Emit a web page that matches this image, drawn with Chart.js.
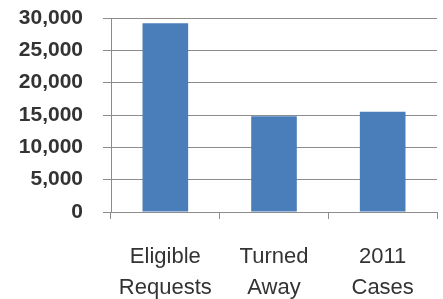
<!DOCTYPE html>
<html>
<head>
<meta charset="utf-8">
<script src="https://cdn.jsdelivr.net/npm/chart.js@4"></script>
<style>
  html, body { margin: 0; padding: 0; background: #fff; }
  #wrap { width: 443px; height: 299px; }
</style>
</head>
<body>
<div id="wrap"><canvas id="c"></canvas></div>
<script>
const categories = [['Eligible', 'Requests'], ['Turned', 'Away'], ['2011', 'Cases']];
const values = [29200, 14800, 15500];
const yTicks = [0, 5000, 10000, 15000, 20000, 25000, 30000];

const data = {
  labels: categories,
  datasets: [{
    data: values,
    backgroundColor: '#4a7ebb',
    borderWidth: 0,
    barPercentage: 0.5,
    categoryPercentage: 0.84
  }]
};

const config = {
  type: 'bar',
  data: data,
  options: {
    responsive: true,
    maintainAspectRatio: false,
    animation: false,
    layout: { padding: { top: 18, right: 6, bottom: 0, left: 0 } },
    plugins: { legend: { display: false }, tooltip: { enabled: false } },
    scales: {
      x: {
        grid: {
          offset: true,
          drawOnChartArea: false,
          drawTicks: true,
          tickLength: 7,
          color: '#8c8c8c'
        },
        border: { display: true, color: '#8c8c8c', width: 1 },
        ticks: {
          color: '#333',
          padding: 23,
          maxRotation: 0,
          font: { family: 'Liberation Sans', size: 22, lineHeight: 1.4 }
        },
        afterFit(scale) { scale.height = 87; scale.paddingLeft = 0; scale.paddingRight = 0; }
      },
      y: {
        min: 0,
        max: 30000,
        afterBuildTicks(scale) { scale.ticks = yTicks.map(v => ({ value: v })); },
        grid: { color: '#8c8c8c', tickLength: 8, lineWidth: 1 },
        border: { display: true, color: '#8c8c8c', width: 1 },
        ticks: {
          color: '#333',
          padding: 20,
          font: { family: 'Liberation Sans', size: 21, weight: 'bold' },
          callback: v => v.toLocaleString('en-US')
        },
        afterFit(scale) { scale.width = 111; scale.paddingTop = 0; scale.paddingBottom = 0; }
      }
    }
  }
};

new Chart(document.getElementById('c'), config);
</script>
</body>
</html>
